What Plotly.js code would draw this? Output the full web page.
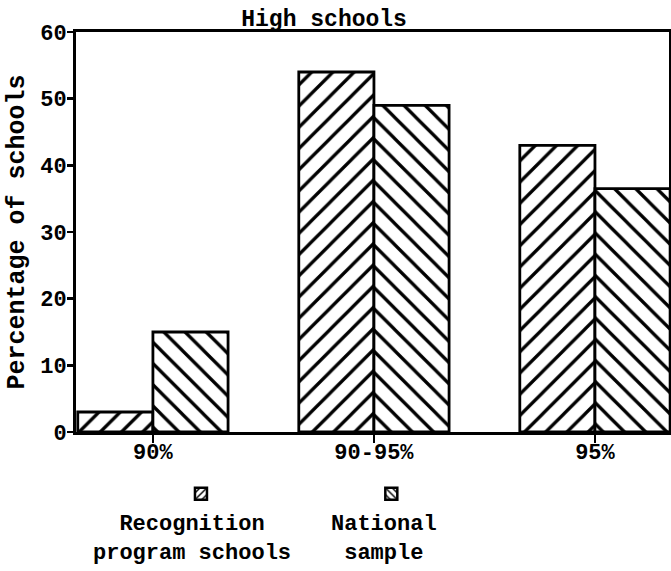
<!DOCTYPE html>
<html>
<head>
<meta charset="utf-8">
<script src="https://cdn.plot.ly/plotly-3.0.1.min.js"></script>
<style>html,body{margin:0;padding:0;background:#fff;}#chart{width:671px;height:571px;}</style>
</head>
<body>
<div id="chart"></div>
<script>
var categories = ["90%", "90-95%", "95%"];
var recognition = [3, 54, 43];
var national = [15, 49, 36.5];
var seriesNames = ["Recognition<br>program schools", "National<br>sample"];
var yTicks = [0, 10, 20, 30, 40, 50, 60];

var FONT = "Liberation Mono, Courier New, monospace";
function pat(shape) {
  return {shape: shape, fgcolor: "#000", bgcolor: "#fff", size: 15, solidity: 0.22, fillmode: "replace"};
}
var idx = categories.map(function (c, i) { return i; });

var traces = [
  {type: "bar", x: idx, y: recognition, name: "Recognition program schools", showlegend: false,
   marker: {color: "#fff", line: {color: "#000", width: 2.8}, pattern: pat("/")}},
  {type: "bar", x: idx, y: national, name: "National sample", showlegend: false,
   marker: {color: "#fff", line: {color: "#000", width: 2.8}, pattern: pat("\\")}},
  {type: "bar", x: [null], y: [null], name: " ", showlegend: true, legend: "legend",
   xaxis: "x2", yaxis: "y2",
   marker: {color: "#fff", line: {color: "#000", width: 2.5}, pattern: {shape: "/", fgcolor: "#000", bgcolor: "#fff", size: 6, solidity: 0.3}}},
  {type: "bar", x: [null], y: [null], name: " ", showlegend: true, legend: "legend2",
   xaxis: "x2", yaxis: "y2",
   marker: {color: "#fff", line: {color: "#000", width: 2.5}, pattern: {shape: "\\", fgcolor: "#000", bgcolor: "#fff", size: 6, solidity: 0.3}}}
];

var layout = {
  width: 671, height: 571,
  margin: {l: 76, r: 2, t: 32, b: 139},
  paper_bgcolor: "#fff", plot_bgcolor: "#fff",
  font: {family: FONT, size: 22, color: "#000", weight: "bold"},
  barmode: "group", bargap: 0.32, bargroupgap: 0,
  title: {text: "<b>High schools</b>", x: 0.483, xanchor: "center", y: 0.968, yanchor: "middle",
          font: {family: FONT, size: 23, color: "#000"}},
  xaxis: {
    type: "linear", range: [-0.348, 2.335],
    tickmode: "array", tickvals: idx, ticktext: categories,
    ticks: "outside", ticklen: 8, tickwidth: 2.5, tickcolor: "#000",
    ticklabelstandoff: -10,
    showline: true, linecolor: "#000", linewidth: 3, mirror: true,
    showgrid: false, zeroline: false,
    tickfont: {family: FONT, size: 22, color: "#000", weight: "bold"}
  },
  yaxis: {
    range: [0, 60], tickmode: "array", tickvals: yTicks,
    ticks: "outside", ticklen: 6, tickwidth: 2.5, tickcolor: "#000",
    ticklabelstandoff: -4,
    showline: true, linecolor: "#000", linewidth: 3, mirror: true,
    showgrid: false, zeroline: false,
    tickfont: {family: FONT, size: 22, color: "#000", weight: "bold"},
    title: {text: "<b>Percentage of schools</b>", standoff: 9,
            font: {family: FONT, size: 25, color: "#000"}}
  },
  xaxis2: {overlaying: "x", visible: false, range: [0, 1]},
  yaxis2: {overlaying: "y", visible: false, range: [0, 1]},
  legend: {x: 0.177, y: -0.118, xanchor: "left", yanchor: "top", orientation: "h",
           bgcolor: "rgba(0,0,0,0)", itemwidth: 30, font: {size: 10}},
  legend2: {x: 0.498, y: -0.118, xanchor: "left", yanchor: "top", orientation: "h",
           bgcolor: "rgba(0,0,0,0)", itemwidth: 30, font: {size: 10}},
  annotations: [
    {text: "<b>" + seriesNames[0] + "</b>", xref: "paper", yref: "paper", x: 0.195, y: -0.195,
     xanchor: "center", yanchor: "top", showarrow: false, align: "center",
     font: {family: FONT, size: 22, color: "#000"}},
    {text: "<b>" + seriesNames[1] + "</b>", xref: "paper", yref: "paper", x: 0.52, y: -0.195,
     xanchor: "center", yanchor: "top", showarrow: false, align: "center",
     font: {family: FONT, size: 22, color: "#000"}}
  ]
};

Plotly.newPlot("chart", traces, layout, {displayModeBar: false, staticPlot: true});
</script>
</body>
</html>
